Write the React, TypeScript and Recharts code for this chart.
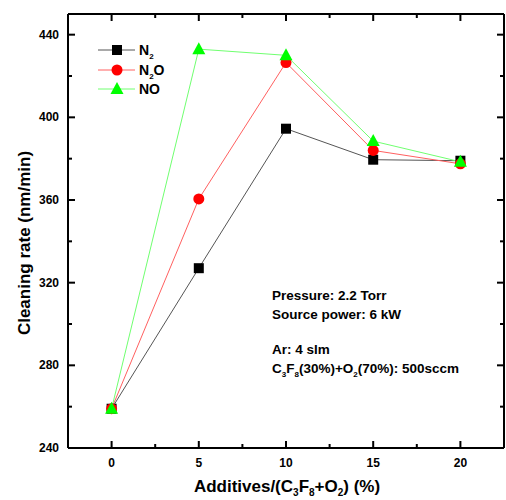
import { LineChart, Line, XAxis, YAxis } from 'recharts'

const additives = [0, 5, 10, 15, 20]
const n2 = [259, 327, 394.5, 379.5, 379]
const n2o = [259, 360.5, 426.5, 384, 377.5]
const no = [259, 433, 430, 388.5, 378.5]

const xTicks = [0, 2.5, 5, 7.5, 10, 12.5, 15, 17.5, 20]
const yTicks = [240, 260, 280, 300, 320, 340, 360, 380, 400, 420, 440]

const X_DOMAIN = [-2.5, 22.5]
const Y_DOMAIN = [240, 450]

const data = additives.map((x, i) => ({ x, n2: n2[i], n2o: n2o[i], no: no[i] }))

const FONT = '"Liberation Sans", Arial, sans-serif'

// inward tick marks (major 7px, minor 4px), drawn at the axis' own tick positions
const BottomTick = (p: any) => {
  const major = p.payload.value % 5 === 0
  const len = major ? 7 : 4
  const x = Number(p.x)
  const y = Number(p.y)
  return (
    <g>
      <rect x={x - 1} y={y - len} width={2} height={len} fill="#000" />
      {major && (
        <text x={x} y={y + 19} textAnchor="middle" fontSize={12} fontWeight="bold" fontFamily={FONT} fill="#000">
          {p.payload.value}
        </text>
      )}
    </g>
  )
}

const TopTick = (p: any) => {
  const len = p.payload.value % 5 === 0 ? 7 : 4
  return <rect x={Number(p.x) - 1} y={Number(p.y)} width={2} height={len} fill="#000" />
}

const LeftTick = (p: any) => {
  const major = p.payload.value % 40 === 0
  const len = major ? 7 : 4
  const x = Number(p.x)
  const y = Number(p.y)
  return (
    <g>
      <rect x={x} y={y - 1} width={len} height={2} fill="#000" />
      {major && (
        <text x={x - 9} y={y + 4} textAnchor="end" fontSize={12} fontWeight="bold" fontFamily={FONT} fill="#000">
          {p.payload.value}
        </text>
      )}
    </g>
  )
}

const RightTick = (p: any) => {
  const len = p.payload.value % 40 === 0 ? 7 : 4
  return <rect x={Number(p.x) - len} y={Number(p.y) - 1} width={len} height={2} fill="#000" />
}

const square = (p: any) => (
  <rect key={p.index} x={p.cx - 5} y={p.cy - 5} width={10} height={10} fill="#000" />
)
const circle = (p: any) => <circle key={p.index} cx={p.cx} cy={p.cy} r={5.5} fill="#ff0000" />
const triangle = (p: any) => (
  <polygon key={p.index} points={`${p.cx},${p.cy - 7} ${p.cx - 6.5},${p.cy + 5} ${p.cx + 6.5},${p.cy + 5}`} fill="#00ff00" />
)

const axisLine = { stroke: '#000', strokeWidth: 2 }

export default function App() {
  return (
    <div style={{ position: 'absolute', left: 0, top: 0, width: 506, height: 500 }}>
      <LineChart width={506} height={500} data={data} margin={{ top: 13, right: 1, left: 0, bottom: 0 }}>
        <XAxis xAxisId="b" dataKey="x" type="number" domain={X_DOMAIN} ticks={xTicks} interval={0}
          height={52} tickSize={0} tickMargin={0} tickLine={false} tick={BottomTick} axisLine={axisLine} />
        <XAxis xAxisId="t" orientation="top" dataKey="x" type="number" domain={X_DOMAIN} ticks={xTicks} interval={0}
          height={1} tickSize={0} tickMargin={0} tickLine={false} tick={TopTick} axisLine={axisLine} />
        <YAxis yAxisId="l" type="number" domain={Y_DOMAIN} ticks={yTicks} interval={0}
          width={68} tickSize={0} tickMargin={0} tickLine={false} tick={LeftTick} axisLine={axisLine} />
        <YAxis yAxisId="r" orientation="right" type="number" domain={Y_DOMAIN} ticks={yTicks} interval={0}
          width={1} tickSize={0} tickMargin={0} tickLine={false} tick={RightTick} axisLine={axisLine} />
        {/* keeps the mirrored top/right axes in use */}
        <Line xAxisId="t" yAxisId="r" dataKey="n2" stroke="none" dot={false} legendType="none" isAnimationActive={false} />
        <Line xAxisId="b" yAxisId="l" dataKey="n2" stroke="#555" strokeWidth={1} dot={square} isAnimationActive={false} />
        <Line xAxisId="b" yAxisId="l" dataKey="n2o" stroke="#ff6060" strokeWidth={1} dot={circle} isAnimationActive={false} />
        <Line xAxisId="b" yAxisId="l" dataKey="no" stroke="#70ff70" strokeWidth={1} dot={triangle} isAnimationActive={false} />
      </LineChart>
      <svg
        width={506}
        height={500}
        style={{ position: 'absolute', left: 0, top: 0, pointerEvents: 'none' }}
        fontFamily={FONT}
        fontWeight="bold"
      >
        <text x={24} y={243} fontSize={17} textAnchor="middle" dominantBaseline="central" transform="rotate(-90 24 243)">
          Cleaning rate (nm/min)
        </text>
        <text x={287} y={492} fontSize={17} textAnchor="middle">
          Additives/(C<tspan fontSize={10} dy={4}>3</tspan>
          <tspan dy={-4}>F</tspan>
          <tspan fontSize={10} dy={4}>8</tspan>
          <tspan dy={-4}>+O</tspan>
          <tspan fontSize={10} dy={4}>2</tspan>
          <tspan dy={-4}>) (%)</tspan>
        </text>

        <line x1={98} y1={50} x2={135} y2={50} stroke="#555" strokeWidth={1} />
        <rect x={112} y={45} width={10} height={10} fill="#000" />
        <text x={139} y={55} fontSize={14}>
          N<tspan fontSize={8} dy={4}>2</tspan>
        </text>

        <line x1={98} y1={70} x2={135} y2={70} stroke="#ff6060" strokeWidth={1} />
        <circle cx={117} cy={70} r={5.5} fill="#ff0000" />
        <text x={139} y={75} fontSize={14}>
          N<tspan fontSize={8} dy={4}>2</tspan>
          <tspan dy={-4}>O</tspan>
        </text>

        <line x1={98} y1={89} x2={135} y2={89} stroke="#70ff70" strokeWidth={1} />
        <polygon points="117,82 110.5,94 123.5,94" fill="#00ff00" />
        <text x={139} y={94} fontSize={14}>NO</text>

        <text x={272} y={300} fontSize={13.5}>Pressure: 2.2 Torr</text>
        <text x={272} y={319} fontSize={13.5}>Source power: 6 kW</text>
        <text x={272} y={354} fontSize={13.5}>Ar: 4 slm</text>
        <text x={272} y={373} fontSize={13.5}>
          C<tspan fontSize={8} dy={4}>3</tspan>
          <tspan dy={-4}>F</tspan>
          <tspan fontSize={8} dy={4}>8</tspan>
          <tspan dy={-4}>(30%)+O</tspan>
          <tspan fontSize={8} dy={4}>2</tspan>
          <tspan dy={-4}>(70%): 500sccm</tspan>
        </text>
      </svg>
    </div>
  )
}
